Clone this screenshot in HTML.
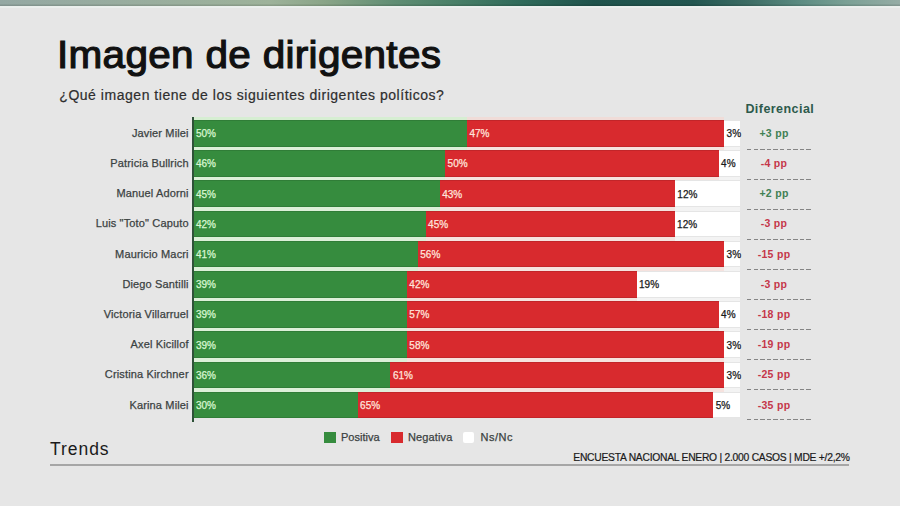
<!DOCTYPE html>
<html><head><meta charset="utf-8">
<style>
html,body{margin:0;padding:0;}
body{width:900px;height:506px;position:relative;overflow:hidden;background:#e6e6e6;font-family:"Liberation Sans",sans-serif;}
div{position:absolute;white-space:nowrap;line-height:1;}
.topbar{left:0;top:0;width:900px;height:6px;box-shadow:inset 0 -1.5px 0 rgba(0,0,0,0.12);background:linear-gradient(90deg,#94a8a3 0%,#9db29a 30%,#8aa588 36%,#5f8d73 44%,#4a8068 50%,#2f6a5a 58%,#1f534c 66%,#225650 77%,#3c6c64 83%,#5c8c82 89%,#7aa095 94%,#95aca5 100%);}
.title{left:57px;top:34.99px;font-size:39px;letter-spacing:0.3px;transform:scaleX(1.038);transform-origin:0 0;color:#111;-webkit-text-stroke:1.2px #111;}
.sub{left:59.3px;top:88.15px;font-size:14px;letter-spacing:0.53px;color:#2e2e2e;-webkit-text-stroke:0.2px #2e2e2e;}
.hdr{left:745.4px;top:103.22px;font-size:12.5px;font-weight:bold;letter-spacing:0.45px;color:#2d5a4c;}
.lab{right:711.3px;font-size:11px;letter-spacing:0.15px;color:#3b4242;-webkit-text-stroke:0.25px #3b4242;text-align:right;}
.axis{left:192.2px;top:117px;width:1.8px;height:305px;background:#2e5238;}
.bar{box-sizing:border-box;box-shadow:inset 0 -1px 0 rgba(0,0,0,0.10),inset 0 1px 0 rgba(0,0,0,0.10);}
.g{background:#368c3e;}
.r{background:#d82a2e;}
.w{background:#ffffff;}
.pct{font-size:10px;-webkit-text-stroke:0.25px currentColor;}
.pg{color:#d9f7d2;}
.pr{color:#ffe4dc;}
.pw{color:#1a1a1a;}
.gap{background:#eef6ee;}
.diff{left:741px;width:66px;text-align:center;font-size:10.5px;font-weight:bold;letter-spacing:0.3px;}
.diff.g{background:none;color:#3f8054;}
.diff.r{background:none;color:#c5364a;}
.dash{left:747px;width:64px;height:1px;background:repeating-linear-gradient(90deg,#858585 0,#858585 4.4px,transparent 4.4px,transparent 6.6px);}
.legend{top:432.19px;font-size:11px;letter-spacing:0px;color:#3b4242;-webkit-text-stroke:0.25px #3b4242;}
.sq{top:431.5px;width:11.6px;height:11.2px;}
.trends{left:50px;top:441.39px;font-size:17.5px;letter-spacing:0.96px;color:#1a1a1a;}
.foot{left:573.3px;top:452.88px;font-size:10.3px;letter-spacing:-0.25px;color:#1a1a1a;-webkit-text-stroke:0.2px #1a1a1a;}
.fline{left:50px;top:464px;width:799px;height:2px;background:#a6a6a6;}
</style></head><body>
<div class="topbar"></div><div style="left:0;top:6px;width:900px;height:2px;background:#ebefed"></div>
<div class="title">Imagen de dirigentes</div>
<div class="sub">¿Qué imagen tiene de los siguientes dirigentes políticos?</div>
<div class="hdr">Diferencial</div>
<div style="left:193.5px;top:117.2px;width:273.50px;height:2.8px;background:#d6eed2"></div><div style="left:467px;top:117.2px;width:257.10px;height:2.8px;background:#f0dcd8"></div>
<div class="lab" style="top:127.89px">Javier Milei</div>
<div class="bar g" style="left:193.5px;top:120.00px;width:273.50px;height:26.6px"></div>
<div class="bar r" style="left:467.00px;top:120.00px;width:257.09px;height:26.6px"></div>
<div class="bar w" style="left:724.09px;top:120.00px;width:16.41px;height:26.6px"></div>
<div class="pct pg" style="left:196.00px;top:129.23px">50%</div>
<div class="pct pr" style="left:469.50px;top:129.23px">47%</div>
<div class="pct pw" style="left:726.59px;top:129.23px">3%</div>
<div class="diff g" style="top:127.71px">+3 pp</div>
<div class="dash" style="top:149px"></div>
<div class="gap" style="left:193.5px;top:146.60px;width:273.50px;height:3.60px;background:#dcf0d8"></div>
<div class="gap" style="left:467.00px;top:146.60px;width:257.09px;height:3.60px;background:#f6e2de"></div>
<div class="gap" style="left:724.09px;top:146.60px;width:16.41px;height:3.60px;background:#f3f3f3"></div>
<div class="lab" style="top:158.09px">Patricia Bullrich</div>
<div class="bar g" style="left:193.5px;top:150.20px;width:251.62px;height:26.6px"></div>
<div class="bar r" style="left:445.12px;top:150.20px;width:273.50px;height:26.6px"></div>
<div class="bar w" style="left:718.62px;top:150.20px;width:21.88px;height:26.6px"></div>
<div class="pct pg" style="left:196.00px;top:159.43px">46%</div>
<div class="pct pr" style="left:447.62px;top:159.43px">50%</div>
<div class="pct pw" style="left:721.12px;top:159.43px">4%</div>
<div class="diff r" style="top:157.91px">-4 pp</div>
<div class="dash" style="top:179px"></div>
<div class="gap" style="left:193.5px;top:176.80px;width:251.62px;height:3.60px;background:#dcf0d8"></div>
<div class="gap" style="left:445.12px;top:176.80px;width:273.50px;height:3.60px;background:#f6e2de"></div>
<div class="gap" style="left:718.62px;top:176.80px;width:21.88px;height:3.60px;background:#f3f3f3"></div>
<div class="lab" style="top:188.29px">Manuel Adorni</div>
<div class="bar g" style="left:193.5px;top:180.40px;width:246.15px;height:26.6px"></div>
<div class="bar r" style="left:439.65px;top:180.40px;width:235.21px;height:26.6px"></div>
<div class="bar w" style="left:674.86px;top:180.40px;width:65.64px;height:26.6px"></div>
<div class="pct pg" style="left:196.00px;top:189.63px">45%</div>
<div class="pct pr" style="left:442.15px;top:189.63px">43%</div>
<div class="pct pw" style="left:677.36px;top:189.63px">12%</div>
<div class="diff g" style="top:188.11px">+2 pp</div>
<div class="dash" style="top:209px"></div>
<div class="gap" style="left:193.5px;top:207.00px;width:246.15px;height:3.60px;background:#dcf0d8"></div>
<div class="gap" style="left:439.65px;top:207.00px;width:235.21px;height:3.60px;background:#f6e2de"></div>
<div class="gap" style="left:674.86px;top:207.00px;width:65.64px;height:3.60px;background:#f3f3f3"></div>
<div class="lab" style="top:218.49px">Luis "Toto" Caputo</div>
<div class="bar g" style="left:193.5px;top:210.60px;width:232.10px;height:26.6px"></div>
<div class="bar r" style="left:425.60px;top:210.60px;width:249.00px;height:26.6px"></div>
<div class="bar w" style="left:674.60px;top:210.60px;width:65.90px;height:26.6px"></div>
<div class="pct pg" style="left:196.00px;top:219.83px">42%</div>
<div class="pct pr" style="left:428.10px;top:219.83px">45%</div>
<div class="pct pw" style="left:677.10px;top:219.83px">12%</div>
<div class="diff r" style="top:218.31px">-3 pp</div>
<div class="dash" style="top:239px"></div>
<div class="gap" style="left:193.5px;top:237.20px;width:232.10px;height:3.60px;background:#dcf0d8"></div>
<div class="gap" style="left:425.60px;top:237.20px;width:249.00px;height:3.60px;background:#f6e2de"></div>
<div class="gap" style="left:674.60px;top:237.20px;width:65.90px;height:3.60px;background:#f3f3f3"></div>
<div class="lab" style="top:248.69px">Mauricio Macri</div>
<div class="bar g" style="left:193.5px;top:240.80px;width:224.27px;height:26.6px"></div>
<div class="bar r" style="left:417.77px;top:240.80px;width:306.32px;height:26.6px"></div>
<div class="bar w" style="left:724.09px;top:240.80px;width:16.41px;height:26.6px"></div>
<div class="pct pg" style="left:196.00px;top:250.03px">41%</div>
<div class="pct pr" style="left:420.27px;top:250.03px">56%</div>
<div class="pct pw" style="left:726.59px;top:250.03px">3%</div>
<div class="diff r" style="top:248.51px">-15 pp</div>
<div class="dash" style="top:269px"></div>
<div class="gap" style="left:193.5px;top:267.40px;width:224.27px;height:3.60px;background:#dcf0d8"></div>
<div class="gap" style="left:417.77px;top:267.40px;width:306.32px;height:3.60px;background:#f6e2de"></div>
<div class="gap" style="left:724.09px;top:267.40px;width:16.41px;height:3.60px;background:#f3f3f3"></div>
<div class="lab" style="top:278.89px">Diego Santilli</div>
<div class="bar g" style="left:193.5px;top:271.00px;width:213.33px;height:26.6px"></div>
<div class="bar r" style="left:406.83px;top:271.00px;width:229.74px;height:26.6px"></div>
<div class="bar w" style="left:636.57px;top:271.00px;width:103.93px;height:26.6px"></div>
<div class="pct pg" style="left:196.00px;top:280.24px">39%</div>
<div class="pct pr" style="left:409.33px;top:280.24px">42%</div>
<div class="pct pw" style="left:639.07px;top:280.24px">19%</div>
<div class="diff r" style="top:278.71px">-3 pp</div>
<div class="dash" style="top:299px"></div>
<div class="gap" style="left:193.5px;top:297.60px;width:213.33px;height:3.60px;background:#dcf0d8"></div>
<div class="gap" style="left:406.83px;top:297.60px;width:229.74px;height:3.60px;background:#f6e2de"></div>
<div class="gap" style="left:636.57px;top:297.60px;width:103.93px;height:3.60px;background:#f3f3f3"></div>
<div class="lab" style="top:309.09px">Victoria Villarruel</div>
<div class="bar g" style="left:193.5px;top:301.20px;width:213.33px;height:26.6px"></div>
<div class="bar r" style="left:406.83px;top:301.20px;width:311.79px;height:26.6px"></div>
<div class="bar w" style="left:718.62px;top:301.20px;width:21.88px;height:26.6px"></div>
<div class="pct pg" style="left:196.00px;top:310.44px">39%</div>
<div class="pct pr" style="left:409.33px;top:310.44px">57%</div>
<div class="pct pw" style="left:721.12px;top:310.44px">4%</div>
<div class="diff r" style="top:308.91px">-18 pp</div>
<div class="dash" style="top:329px"></div>
<div class="gap" style="left:193.5px;top:327.80px;width:213.33px;height:3.60px;background:#dcf0d8"></div>
<div class="gap" style="left:406.83px;top:327.80px;width:311.79px;height:3.60px;background:#f6e2de"></div>
<div class="gap" style="left:718.62px;top:327.80px;width:21.88px;height:3.60px;background:#f3f3f3"></div>
<div class="lab" style="top:339.29px">Axel Kicillof</div>
<div class="bar g" style="left:193.5px;top:331.40px;width:213.33px;height:26.6px"></div>
<div class="bar r" style="left:406.83px;top:331.40px;width:317.26px;height:26.6px"></div>
<div class="bar w" style="left:724.09px;top:331.40px;width:16.41px;height:26.6px"></div>
<div class="pct pg" style="left:196.00px;top:340.63px">39%</div>
<div class="pct pr" style="left:409.33px;top:340.63px">58%</div>
<div class="pct pw" style="left:726.59px;top:340.63px">3%</div>
<div class="diff r" style="top:339.11px">-19 pp</div>
<div class="dash" style="top:359px"></div>
<div class="gap" style="left:193.5px;top:358.00px;width:213.33px;height:3.60px;background:#dcf0d8"></div>
<div class="gap" style="left:406.83px;top:358.00px;width:317.26px;height:3.60px;background:#f6e2de"></div>
<div class="gap" style="left:724.09px;top:358.00px;width:16.41px;height:3.60px;background:#f3f3f3"></div>
<div class="lab" style="top:369.49px">Cristina Kirchner</div>
<div class="bar g" style="left:193.5px;top:361.60px;width:196.92px;height:26.6px"></div>
<div class="bar r" style="left:390.42px;top:361.60px;width:333.67px;height:26.6px"></div>
<div class="bar w" style="left:724.09px;top:361.60px;width:16.41px;height:26.6px"></div>
<div class="pct pg" style="left:196.00px;top:370.84px">36%</div>
<div class="pct pr" style="left:392.92px;top:370.84px">61%</div>
<div class="pct pw" style="left:726.59px;top:370.84px">3%</div>
<div class="diff r" style="top:369.31px">-25 pp</div>
<div class="dash" style="top:389px"></div>
<div class="gap" style="left:193.5px;top:388.20px;width:196.92px;height:3.60px;background:#dcf0d8"></div>
<div class="gap" style="left:390.42px;top:388.20px;width:333.67px;height:3.60px;background:#f6e2de"></div>
<div class="gap" style="left:724.09px;top:388.20px;width:16.41px;height:3.60px;background:#f3f3f3"></div>
<div class="lab" style="top:399.69px">Karina Milei</div>
<div class="bar g" style="left:193.5px;top:391.80px;width:164.10px;height:26.6px"></div>
<div class="bar r" style="left:357.60px;top:391.80px;width:355.55px;height:26.6px"></div>
<div class="bar w" style="left:713.15px;top:391.80px;width:27.35px;height:26.6px"></div>
<div class="pct pg" style="left:196.00px;top:401.04px">30%</div>
<div class="pct pr" style="left:360.10px;top:401.04px">65%</div>
<div class="pct pw" style="left:715.65px;top:401.04px">5%</div>
<div class="diff r" style="top:399.51px">-35 pp</div>
<div class="dash" style="top:419px"></div>
<div class="axis"></div>
<div class="sq" style="left:324px;background:#368c3e"></div><div class="legend" style="left:341px">Positiva</div>
<div class="sq" style="left:391px;background:#d82a2e"></div><div class="legend" style="left:408px;letter-spacing:0.12px">Negativa</div>
<div class="sq" style="left:462.5px;background:#fff;border-radius:2px"></div><div class="legend" style="left:480.4px;letter-spacing:0.55px">Ns/Nc</div>
<div class="trends">Trends</div>
<div class="foot">ENCUESTA NACIONAL ENERO | 2.000 CASOS | MDE +/2,2%</div>
<div class="fline"></div>
</body></html>
